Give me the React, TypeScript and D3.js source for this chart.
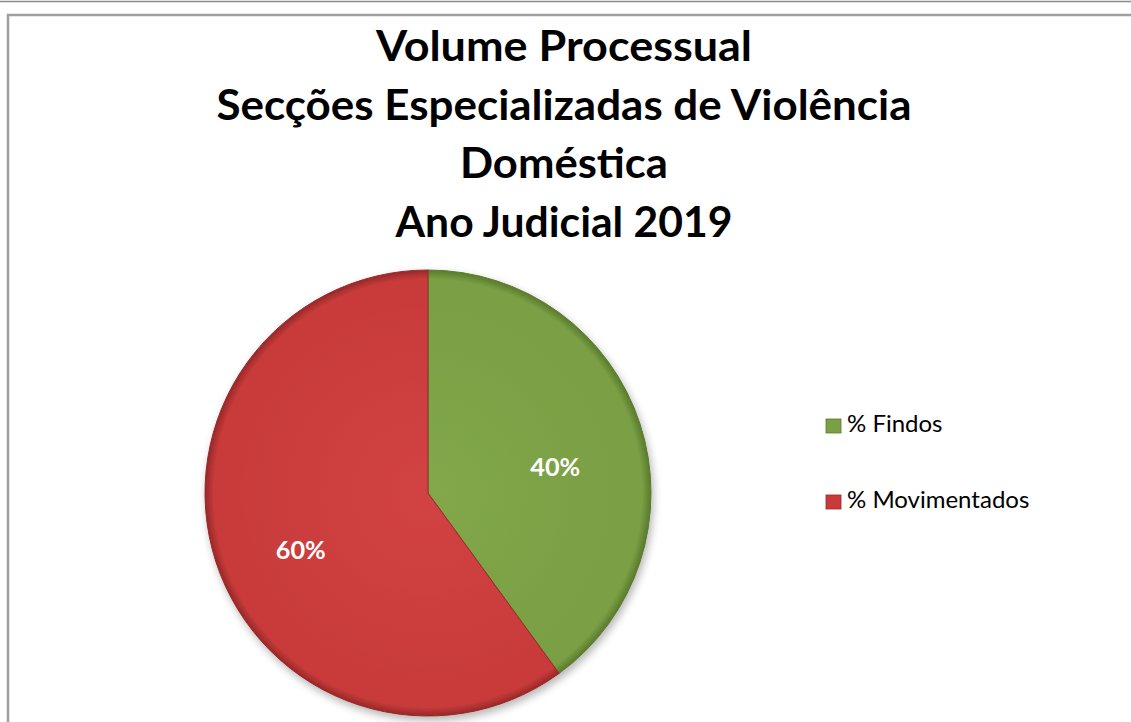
import React from "react";
import * as d3 from "d3";

const categories = ["% Findos", "% Movimentados"];
const values = [40, 60];
const labels = ["40%", "60%"];
const titleLines = ["Volume Processual", "Secções Especializadas de Violência", "Doméstica", "Ano Judicial 2019"];
const titleWidths = [376, 695, 208, 337];

const W = 1131, H = 722;
const cx = 428, cy = 493, R = 223;
const baseColors = ["#7a9f44", "#c93b3b"];
const lightColors = ["#82a84a", "#d24343"];
const darkColors = ["#5a7a2c", "#982828"];

export default function App() {
  const pie = d3.pie<number>().sort(null).value((d) => d);
  const arcs = pie(values);
  const arcGen = d3.arc<d3.PieArcDatum<number>>().innerRadius(0).outerRadius(R);
  const labelArc = d3.arc<d3.PieArcDatum<number>>().innerRadius(R * 0.6).outerRadius(R * 0.6);

  return (
    <svg width={W} height={H} style={{ position: "absolute", left: 0, top: 0, background: "#fff" }}
      fontFamily="Lato, 'Open Sans', sans-serif">
      <defs>
        {baseColors.map((c, i) => (
          <radialGradient key={i} id={`g${i}`} cx={0} cy={0} r={R} gradientUnits="userSpaceOnUse">
            <stop offset="0%" stopColor={lightColors[i]} />
            <stop offset="85%" stopColor={baseColors[i]} />
            <stop offset="96%" stopColor={baseColors[i]} />
            <stop offset="100%" stopColor={darkColors[i]} />
          </radialGradient>
        ))}
        <filter id="sh" x="-20%" y="-20%" width="140%" height="140%">
          <feGaussianBlur in="SourceAlpha" stdDeviation="4" />
          <feOffset dx="2" dy="4" result="b" />
          <feComponentTransfer><feFuncA type="linear" slope="0.3" /></feComponentTransfer>
          <feMerge><feMergeNode /><feMergeNode in="SourceGraphic" /></feMerge>
        </filter>
      </defs>
      <line x1={0} x2={W} y1={1.5} y2={1.5} stroke="#8a8a8a" strokeWidth={1.5} />
      <rect x={8} y={15} width={W + 20} height={H + 20} fill="none" stroke="#a0a0a0" strokeWidth={2.5} />
      {titleLines.map((t, i) => (
        <text key={i} x={564} y={61 + i * 58.5} textAnchor="middle" fontSize={42} fontWeight="bold"
          fill="#000" textLength={titleWidths[i]} lengthAdjust="spacingAndGlyphs">{t}</text>
      ))}
      <g filter="url(#sh)" transform={`translate(${cx},${cy})`}>
        {arcs.map((a, i) => (
          <path key={i} d={arcGen(a) || ""} fill={`url(#g${i})`}
            stroke={darkColors[i]} strokeWidth={1} />
        ))}
      </g>
      {arcs.map((a, i) => {
        const [x, y] = labelArc.centroid(a);
        return (
          <text key={i} x={cx + x} y={cy + y + 16} dy="0.35em" textAnchor="middle" fontSize={25}
            fontWeight="bold" fill="#fff" textLength={50} lengthAdjust="spacingAndGlyphs">{labels[i]}</text>
        );
      })}
      {categories.map((c, i) => (
        <g key={i} transform={`translate(826,${432 + i * 76})`}>
          <rect x={0} y={-13} width={15} height={14} fill={baseColors[i]} stroke={darkColors[i]} strokeWidth={0.8} />
          <text x={21} y={0} fontSize={24} fill="#000">{c}</text>
        </g>
      ))}
    </svg>
  );
}
